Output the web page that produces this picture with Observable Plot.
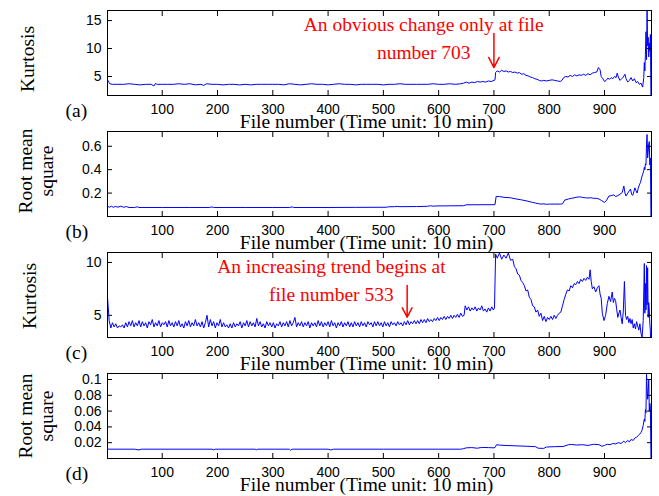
<!DOCTYPE html>
<html><head><meta charset="utf-8">
<script src="https://cdn.jsdelivr.net/npm/d3@7"></script>
<script src="https://cdn.jsdelivr.net/npm/@observablehq/plot@0.6"></script>
<style>
body{margin:0;background:#fff;}
#chart{position:relative;width:659px;height:496px;overflow:hidden;background:#fff;}
#chart svg{position:absolute;left:0;overflow:visible;background:transparent;}
</style></head><body><div id="chart"></div>
<script>
// ---------- data ----------
const xTicks = [100, 200, 300, 400, 500, 600, 700, 800, 900];
const xLabel = "File number (Time unit: 10 min)";

// (a) kurtosis, first signal
const fileA = [1,5,10,20,30,40,50,60,70,80,85,88,90,100,110,120,130,140,150,160,170,175,180,190,200,210,220,230,240,250,260,270,280,290,300,310,320,330,340,350,360,370,380,390,400,410,420,430,440,450,460,470,480,490,500,510,520,530,540,550,560,570,580,590,600,610,620,630,640,
645,650,655,660,665,670,675,680,685,690,695,700,702,
703,706,710,714,718,722,726,730,734,738,742,746,750,754,758,762,766,770,774,778,782,786,790,795,800,805,810,815,820,823,826,830,834,838,842,846,850,854,858,862,866,870,874,878,882,886,889,892,894,897,900,903,906,909,912,915,918,921,923,925,928,931,934,937,939,942,945,948,951,954,957,960,963,966,969,971,972,973,974,975,976,977,978,979,980,981,982,983,984];
const kurtA = [4.4,3.7,3.6,3.6,3.6,3.7,3.6,3.5,3.6,3.6,3.3,3.8,3.6,3.6,3.6,3.6,3.7,3.6,3.7,3.5,3.6,3.4,3.7,3.6,3.6,3.5,3.6,3.6,3.5,3.6,3.5,3.6,3.6,3.6,3.6,3.6,3.5,3.7,3.6,3.5,3.6,3.7,3.6,3.6,3.5,3.6,3.7,3.6,3.6,3.5,3.6,3.6,3.6,3.6,3.5,3.6,3.6,3.7,3.6,3.6,3.6,3.6,3.6,3.7,3.6,3.6,3.7,3.6,3.7,
3.8,4.0,3.8,4.0,3.9,4.1,4.0,4.1,4.0,4.2,4.1,4.3,4.4,
5.7,6.0,5.8,6.1,5.9,6.0,5.8,5.9,5.7,5.8,5.6,5.7,5.4,5.5,5.2,5.1,4.9,4.8,4.6,4.5,4.3,4.2,4.3,4.2,4.3,4.4,4.3,4.2,4.1,4.3,4.8,5.0,4.9,5.2,5.0,5.3,5.1,5.3,5.2,5.4,5.2,5.5,5.3,5.6,5.7,5.8,6.6,6.2,5.0,4.6,4.1,4.3,4.7,4.5,4.8,4.6,5.0,4.8,5.6,4.9,4.3,4.6,4.9,5.4,4.6,4.0,4.3,4.8,4.2,4.6,3.9,4.1,3.6,3.8,3.1,4.8,7.5,6.0,9.0,13.0,8.0,16.8,10.5,12.0,8.5,11.0,9.5,12.5,1.0];

// (b) root mean square, first signal
const fileB = [1,5,8,12,15,20,25,30,35,40,50,55,58,100,150,185,190,193,250,300,330,335,338,400,450,505,510,520,525,530,560,580,585,590,595,645,650,700,702,
704,710,720,730,740,750,760,770,775,780,785,790,795,800,810,820,824,828,835,840,845,850,855,860,865,870,875,880,885,890,895,900,904,908,912,917,920,924,928,932,935,937,939,942,945,947,949,951,953,955,957,959,961,963,965,967,969,971,972,973,974,975,976,977,978,979,980,981,982,983,984];
const rmsB = [0.085,0.080,0.088,0.078,0.086,0.080,0.088,0.079,0.085,0.077,0.077,0.083,0.077,0.077,0.077,0.077,0.082,0.077,0.077,0.077,0.077,0.082,0.077,0.077,0.078,0.079,0.083,0.084,0.086,0.084,0.085,0.087,0.092,0.088,0.090,0.092,0.100,0.101,0.102,
0.172,0.170,0.163,0.160,0.150,0.142,0.132,0.120,0.115,0.110,0.106,0.108,0.104,0.106,0.106,0.106,0.108,0.140,0.150,0.155,0.160,0.165,0.168,0.163,0.160,0.158,0.160,0.156,0.155,0.150,0.135,0.120,0.140,0.175,0.178,0.185,0.170,0.178,0.190,0.205,0.260,0.200,0.175,0.200,0.220,0.235,0.190,0.180,0.210,0.245,0.220,0.200,0.240,0.270,0.290,0.330,0.360,0.390,0.420,0.400,0.450,0.440,0.620,0.700,0.500,0.550,0.620,0.640,0.440,0.500,0.0];

// (c) kurtosis, second signal
const fileC = [1,4,7,10,13,16,19,22,25,28,31,34,37,40,43,46,49,52,55,58,61,64,67,70,73,76,79,82,85,88,91,94,97,100,103,106,109,112,115,118,121,124,127,130,133,136,139,142,145,148,151,154,157,160,163,166,169,172,175,178,181,184,187,190,193,196,199,202,205,208,211,214,217,220,223,226,229,232,235,238,241,244,247,250,253,256,259,262,265,268,271,274,277,280,283,286,289,292,295,298,301,304,307,310,313,316,319,322,325,328,331,334,337,340,343,346,349,352,355,358,361,364,367,370,373,376,379,382,385,388,391,394,397,400,403,406,409,412,415,418,421,424,427,430,433,436,439,442,445,448,451,454,457,460,463,466,469,472,475,478,481,484,487,490,493,496,499,502,505,508,511,514,517,520,523,526,529,532,535,538,541,544,547,550,553,556,559,562,565,568,571,574,577,580,583,586,589,592,595,598,601,604,607,610,613,616,619,622,625,628,631,634,637,640,643,646,648,651,654,657,660,663,666,669,672,675,678,681,684,687,690,693,696,699,701,
703,706,710,714,718,722,726,730,734,737,740,743,746,749,752,755,758,761,764,767,770,773,776,779,782,785,788,791,794,797,800,803,806,809,812,815,818,821,824,827,830,833,836,839,842,845,848,851,854,857,860,863,866,869,872,874,876,878,881,884,887,890,892,894,896,899,902,905,908,911,914,916,918,920,922,924,926,928,930,932,934,936,938,940,942,944,946,948,950,952,954,956,958,960,962,964,966,968,970,972,973,974,975,976,977,978,979,980,981,982,983,984];
const kurtC = [6.7,4.5,3.8,4.3,3.9,4.2,3.8,4.0,3.9,4.1,3.8,4.3,3.9,4.4,4.0,4.5,3.9,4.3,4.0,4.5,3.9,4.4,4.0,4.3,3.8,4.4,4.1,4.6,3.9,4.3,4.0,4.5,3.9,4.3,4.1,4.4,3.9,4.5,4.0,4.3,3.9,4.4,4.0,4.5,3.9,4.2,3.8,4.4,4.0,4.5,3.9,4.3,4.0,4.6,4.0,4.3,3.9,4.4,3.8,4.3,5.0,3.9,4.6,4.0,4.4,3.8,4.3,4.0,4.6,3.9,4.3,3.9,4.1,3.8,4.2,3.8,4.3,3.9,4.2,4.0,4.4,3.8,4.3,4.0,4.5,3.9,4.4,4.0,4.3,3.9,4.7,4.0,4.4,3.9,4.2,3.8,4.4,4.0,4.3,3.9,4.3,3.8,4.2,4.0,4.4,3.9,4.3,4.0,4.4,3.9,4.5,4.0,4.3,4.8,3.9,4.3,4.0,4.4,3.9,4.3,4.0,4.4,3.8,4.3,4.0,4.3,3.9,4.5,4.0,4.4,3.9,4.3,4.0,4.4,3.9,4.5,4.0,4.3,3.8,4.3,4.0,4.4,3.9,4.3,4.0,4.4,3.9,4.3,3.9,4.4,4.0,4.3,3.9,4.4,4.0,4.3,3.9,4.4,4.1,4.3,3.9,4.4,4.0,4.4,4.0,4.3,3.9,4.4,4.0,4.3,3.9,4.4,4.1,4.3,4.0,4.4,4.1,4.3,4.0,4.4,4.1,4.5,4.1,4.4,4.2,4.5,4.2,4.5,4.2,4.6,4.3,4.6,4.3,4.7,4.4,4.6,4.4,4.7,4.5,4.8,4.5,4.8,4.6,4.9,4.6,4.9,4.7,5.0,4.7,5.0,4.8,5.1,4.8,5.2,4.9,5.0,5.9,5.5,5.8,5.4,5.7,5.5,5.8,5.4,5.7,5.5,5.9,5.4,5.6,5.3,5.7,5.4,5.8,5.5,5.7,
10.8,10.4,10.9,10.3,10.7,10.4,10.9,10.2,10.3,9.6,9.4,8.9,8.8,8.3,8.1,7.8,7.3,7.4,6.7,6.5,5.9,5.8,5.3,5.5,4.9,5.2,4.5,4.9,4.4,4.8,4.6,4.9,4.6,5.0,4.7,5.0,5.2,5.3,5.9,6.5,7.0,7.4,7.3,7.8,7.6,8.0,7.9,8.2,8.0,8.4,8.2,8.5,8.3,8.6,8.4,9.3,8.2,7.5,7.7,7.2,7.6,7.8,7.0,6.6,5.2,4.5,5.0,6.1,6.8,6.3,7.2,6.2,6.6,6.4,5.6,4.8,5.2,5.5,4.8,4.2,5.4,8.2,5.0,4.6,4.9,4.3,4.7,4.2,4.6,3.8,4.2,3.7,4.4,4.0,3.6,4.2,3.3,2.9,4.5,9.9,5.2,8.0,5.5,9.7,6.0,9.5,4.8,6.2,5.5,4.2,3.5,0.0];

// (d) root mean square, second signal
const fileD = [1,50,58,62,190,193,196,268,270,273,330,332,335,400,405,410,500,600,640,645,650,660,670,675,680,690,700,702,
705,710,720,740,760,775,780,790,795,810,825,835,840,850,860,870,880,890,895,900,905,910,915,920,925,930,935,938,942,945,948,952,955,958,961,964,966,968,970,972,973,974,975,976,977,978,979,980,981,982,983,984];
const rmsD = [0.0118,0.0118,0.0108,0.0118,0.0118,0.0110,0.0118,0.0118,0.0110,0.0118,0.0118,0.0105,0.0118,0.0118,0.0108,0.0118,0.0118,0.0118,0.0118,0.0125,0.0135,0.0138,0.0130,0.0137,0.0140,0.0138,0.0135,0.0140,
0.0175,0.0170,0.0165,0.0160,0.0155,0.0150,0.0130,0.0128,0.0145,0.0150,0.0152,0.0175,0.0178,0.0170,0.0175,0.0165,0.0180,0.0175,0.0155,0.0165,0.0180,0.0175,0.0190,0.0185,0.0200,0.0190,0.0220,0.0200,0.0230,0.0210,0.0240,0.0230,0.0260,0.0270,0.0290,0.0310,0.0330,0.0360,0.0420,0.0500,0.0470,0.0620,0.0580,0.1070,0.0900,0.0750,0.0850,0.1000,0.0600,0.0700,0.0650,0.0];

// annotations
const annA = {lines: ["An obvious change only at file", "number 703"], file: 573, values: [13.2, 8.2], arrowFile: 700, arrowFrom: 12.7, arrowTo: 6.6};
const annC = {lines: ["An increasing trend begins at", "file number 533"], file: 406, values: [9.0, 6.32], arrowFile: 543, arrowFrom: 7.82, arrowTo: 4.82};

const panels = [
  {top: 0,   files: fileA, values: kurtA, domain: [1.6, 16.8],  yTicks: [5, 10, 15], yLabel: "Kurtosis", yLabelX: -74, yLabelY: 6, tag: "(a)", ann: annA},
  {top: 121, files: fileB, values: rmsB,  domain: [0, 0.726],   yTicks: [0.2, 0.4, 0.6], yLabel: "Root mean\nsquare", yLabelX: -55, yLabelY: -3, tag: "(b)"},
  {top: 242, files: fileC, values: kurtC, domain: [2.9, 10.94], yTicks: [5, 10], yLabel: "Kurtosis", yLabelX: -72, yLabelY: 1, tag: "(c)", ann: annC},
  {top: 363, files: fileD, values: rmsD,  domain: [0, 0.1076],  yTicks: [0.02, 0.04, 0.06, 0.08, 0.1], yLabel: "Root mean\nsquare", yLabelX: -55, yLabelY: 0, tag: "(d)"}
];

const serif = "'Liberation Serif', 'Times New Roman', Times, serif";
const sans = "'Liberation Sans', Arial, Helvetica, sans-serif";

function panel(cfg) {
  const data = cfg.files.map((f, i) => ({file: f, value: cfg.values[i]}));
  const marks = [
    Plot.line(data, {x: "file", y: "value", stroke: "#0000ff", strokeWidth: 1, clip: true}),
    Plot.frame({stroke: "#000", strokeWidth: 1}),
    Plot.axisX(xTicks, {anchor: "bottom", tickSize: -5, tickPadding: 14, label: null, fontSize: 14, fill: "#000"}),
    Plot.axisX(xTicks, {anchor: "top", tickSize: -5, tickFormat: () => "", label: null}),
    Plot.axisY(cfg.yTicks, {anchor: "left", tickSize: -5, tickPadding: 11, tickFormat: d => String(d), label: null, fontSize: 14, fill: "#000"}),
    Plot.axisY(cfg.yTicks, {anchor: "right", tickSize: -5, tickFormat: () => "", label: null}),
    Plot.text([xLabel], {frameAnchor: "bottom", dx: -13, dy: 32, textAnchor: "middle", lineAnchor: "bottom", fontFamily: serif, fontSize: 19.5, fill: "#000"}),
    Plot.text([cfg.tag], {frameAnchor: "bottom-left", dx: -42, dy: 21, textAnchor: "start", lineAnchor: "bottom", fontFamily: serif, fontSize: 19.5, fill: "#000"}),
    Plot.text([cfg.yLabel], {frameAnchor: "left", rotate: -90, dx: cfg.yLabelX, dy: cfg.yLabelY, textAnchor: "middle", lineAnchor: "bottom", lineHeight: 1.05, fontFamily: serif, fontSize: 19.5, fill: "#000"})
  ];
  if (cfg.ann) {
    const a = cfg.ann;
    const annData = a.lines.map((t, i) => ({t, file: a.file, value: a.values[i]}));
    marks.push(Plot.text(annData, {x: "file", y: "value", text: "t", textAnchor: "middle", lineAnchor: "bottom", fontFamily: serif, fontSize: 19.5, fill: "#ff0000"}));
    marks.push(Plot.arrow([a], {x1: "arrowFile", x2: "arrowFile", y1: "arrowFrom", y2: "arrowTo", stroke: "#ff0000", strokeWidth: 1.5, headLength: 12, headAngle: 55}));
  }
  const svg = Plot.plot({
    width: 659, height: 131,
    marginLeft: 107, marginRight: 8, marginTop: 10, marginBottom: 36,
    style: {fontFamily: sans, fontSize: "14px", background: "transparent", overflow: "visible", color: "#000"},
    x: {domain: [1, 985]},
    y: {domain: cfg.domain},
    marks
  });
  svg.style.top = cfg.top + "px";
  return svg;
}

const chart = document.getElementById("chart");
for (const p of panels) chart.appendChild(panel(p));
</script></body></html>
